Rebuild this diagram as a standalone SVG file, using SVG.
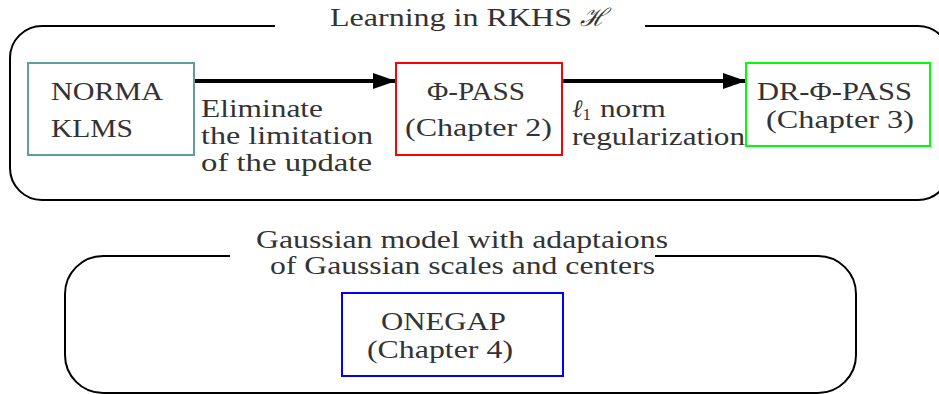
<svg xmlns="http://www.w3.org/2000/svg" width="939" height="394" viewBox="0 0 939 394">
<defs>
<style>
.t{font-family:"Liberation Serif","DejaVu Serif",serif;font-size:25px;fill:#333}
.box{fill:#fff;stroke-width:2}
.cont{fill:none;stroke:#000;stroke-width:2}
.conn{stroke:#000;stroke-width:4;fill:none}
</style>
<marker id="ah" markerUnits="userSpaceOnUse" markerWidth="24" markerHeight="18" refX="23" refY="9" orient="auto">
<path d="M0,1 L23,9 L0,17 z" fill="#000"/>
</marker>
</defs>
<rect width="939" height="394" fill="#fff"/>
<g id="rkhs">
<path class="cont" d="M275 26 H42 A32 32 0 0 0 10 58 V168 A32 32 0 0 0 42 200 H918 A32 32 0 0 0 950 168 V58 A32 32 0 0 0 918 26 H645"/>
<text class="t" x="330" y="26"><tspan textLength="242" lengthAdjust="spacingAndGlyphs">Learning in RKHS</tspan><tspan font-style="italic" font-family="DejaVu Serif,serif" dx="8">ℋ</tspan></text>
</g>
<g id="gauss">
<path class="cont" d="M230 256 H103 A38 38 0 0 0 65 294 V355 A38 38 0 0 0 103 393 H818 A38 38 0 0 0 856 355 V294 A38 38 0 0 0 818 256 H655"/>
<text class="t" x="256" y="248" textLength="412" lengthAdjust="spacingAndGlyphs">Gaussian model with adaptaions</text>
<text class="t" x="270" y="274" textLength="385" lengthAdjust="spacingAndGlyphs">of Gaussian scales and centers</text>
</g>
<g id="connectors">
<line class="conn" x1="194" y1="81" x2="396" y2="81" marker-end="url(#ah)"/>
<line class="conn" x1="562" y1="81" x2="746" y2="81" marker-end="url(#ah)"/>
<text class="t" x="201" y="117" textLength="122" lengthAdjust="spacingAndGlyphs">Eliminate</text>
<text class="t" x="201" y="144" textLength="172" lengthAdjust="spacingAndGlyphs">the limitation</text>
<text class="t" x="201" y="171" textLength="171" lengthAdjust="spacingAndGlyphs">of the update</text>
<text class="t" x="572" y="117"><tspan font-style="italic">ℓ</tspan><tspan font-size="17" dy="3">1</tspan><tspan dy="-3" dx="9" textLength="66" lengthAdjust="spacingAndGlyphs">norm</tspan></text>
<text class="t" x="572" y="145" textLength="173" lengthAdjust="spacingAndGlyphs">regularization</text>
</g>
<g id="norma">
<rect class="box" x="28" y="63" width="166" height="92" stroke="#5f9ea0"/>
<text class="t" x="51" y="100" textLength="112" lengthAdjust="spacingAndGlyphs">NORMA</text>
<text class="t" x="51" y="137" textLength="82" lengthAdjust="spacingAndGlyphs">KLMS</text>
</g>
<g id="phipass">
<rect class="box" x="396" y="63" width="166" height="92" stroke="#ff0000"/>
<text class="t" x="427" y="100" textLength="98" lengthAdjust="spacingAndGlyphs">Φ-PASS</text>
<text class="t" x="405" y="136" textLength="147" lengthAdjust="spacingAndGlyphs">(Chapter 2)</text>
</g>
<g id="drphipass">
<rect class="box" x="746" y="63" width="184" height="83" stroke="#00ff00"/>
<text class="t" x="757" y="100" textLength="155" lengthAdjust="spacingAndGlyphs">DR-Φ-PASS</text>
<text class="t" x="766" y="128" textLength="148" lengthAdjust="spacingAndGlyphs">(Chapter 3)</text>
</g>
<g id="onegap">
<rect class="box" x="342" y="293" width="221" height="83" stroke="#0000ff"/>
<text class="t" x="381" y="330" textLength="125" lengthAdjust="spacingAndGlyphs">ONEGAP</text>
<text class="t" x="367" y="358" textLength="146" lengthAdjust="spacingAndGlyphs">(Chapter 4)</text>
</g>
</svg>
